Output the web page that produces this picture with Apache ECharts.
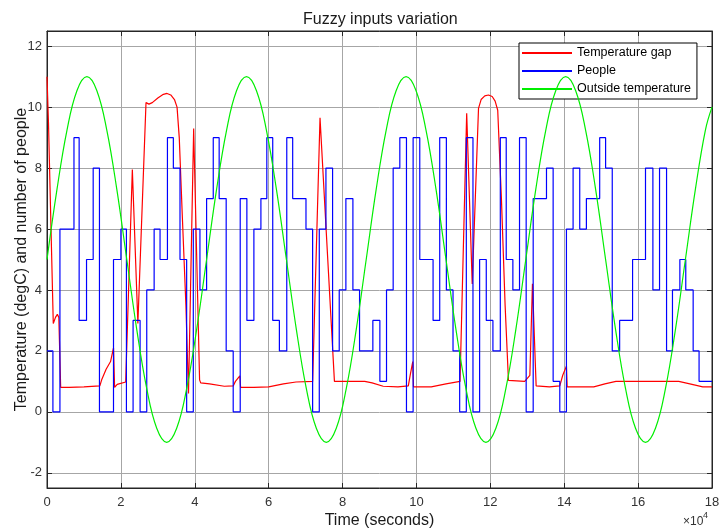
<!DOCTYPE html>
<html>
<head>
<meta charset="utf-8">
<script src="https://cdn.jsdelivr.net/npm/echarts@6/dist/echarts.min.js"></script>
<style>
html,body{margin:0;padding:0;background:#fff;}
#chart{width:719px;height:531px;}
</style>
</head>
<body>
<div id="chart"></div>
<script>
// ---- data (x in units of 10^4 s) ----
const tempGapTimes = [0, 0.04, 0.17, 0.23, 0.28, 0.32, 0.37, 0.6, 1.0, 1.43, 1.48, 1.6, 1.72, 1.80, 1.83, 1.9, 2.13,
  2.31, 2.46, 2.68, 2.76, 2.85, 3.0, 3.15, 3.25, 3.35, 3.45, 3.52, 3.58, 3.66, 3.76, 3.83, 3.97, 4.13, 4.16,
  4.4, 4.8, 5.04, 5.1, 5.22, 5.24, 5.6, 6.0, 6.4, 6.74, 7.19, 7.39, 7.78, 8.6, 8.8, 9.1, 9.5, 9.78, 9.83,
  9.9, 9.92, 10.4, 10.8, 11.18, 11.36, 11.51, 11.68, 11.75, 11.85, 11.95, 12.05, 12.13, 12.2, 12.3, 12.4,
  12.49, 12.93, 13.07, 13.14, 13.24, 13.6, 13.88, 13.96, 14.06, 14.08, 14.8, 15.1, 15.4, 17.1, 17.4, 17.75, 18];
const tempGapValues = [11.0, 9.5, 2.9, 3.1, 3.2, 3.1, 0.8, 0.8, 0.82, 0.85, 1.05, 1.4, 1.65, 2.1, 0.8, 0.9, 0.98,
  7.95, 2.9, 10.15, 10.1, 10.15, 10.3, 10.42, 10.45, 10.4, 10.25, 10.0, 9.0, 6.5, 3.5, 0.6, 9.3, 1.05, 0.95,
  0.92, 0.84, 0.85, 1.0, 1.18, 0.8, 0.8, 0.82, 0.92, 0.98, 1.0, 9.65, 1.0, 1.0, 0.95, 0.84, 0.82, 0.85, 1.2,
  1.65, 0.82, 0.82, 0.92, 1.0, 9.8, 4.2, 9.96, 10.25, 10.37, 10.4, 10.35, 10.2, 9.9, 7.0, 3.5,
  1.03, 1.0, 1.2, 4.2, 0.85, 0.82, 0.85, 1.2, 1.5, 0.82, 0.82, 0.92, 1.0, 1.0, 0.92, 0.82, 0.82];

const peopleTimes = [0, 0.16, 0.35, 0.73, 0.87, 1.07, 1.25, 1.42, 1.80, 2.00, 2.15, 2.33, 2.52, 2.70, 2.90,
  3.06, 3.26, 3.42, 3.60, 3.78, 3.96, 4.14, 4.32, 4.50, 4.66, 4.85, 5.04, 5.23, 5.41, 5.60, 5.79, 5.95,
  6.11, 6.29, 6.49, 6.65, 7.01, 7.19, 7.37, 7.55, 7.73, 7.91, 8.09, 8.28, 8.46, 8.82, 9.01, 9.19, 9.37,
  9.55, 9.73, 9.91, 10.09, 10.45, 10.63, 10.81, 10.99, 11.17, 11.35, 11.53, 11.71, 11.89, 12.07, 12.27,
  12.43, 12.61, 12.79, 12.97, 13.16, 13.52, 13.70, 13.88, 14.06, 14.24, 14.42, 14.60, 14.96, 15.12,
  15.30, 15.50, 15.85, 16.20, 16.40, 16.58, 16.77, 16.93, 17.13, 17.29, 17.49, 17.65, 18];
const peopleValues = [2, 0, 6, 9, 3, 5, 8, 0, 5, 6, 0, 3, 0, 4, 6,
  5, 9, 8, 5, 0, 6, 4, 7, 9, 7, 2, 0, 7, 3, 6, 7, 9,
  3, 2, 9, 7, 6, 0, 6, 8, 2, 4, 7, 4, 2, 3, 1, 4, 8,
  9, 0, 9, 5, 3, 9, 4, 2, 0, 9, 0, 5, 3, 2, 9,
  5, 4, 9, 0, 7, 8, 1, 0, 6, 8, 6, 7, 9, 8,
  2, 3, 5, 8, 4, 8, 2, 4, 5, 4, 2, 1, 1];

const outsideTimes = [0, 0.27, 0.54, 0.81, 1.08, 1.35, 1.62, 1.89, 2.16, 2.43, 2.70, 2.97, 3.24, 3.51, 3.78, 4.05,
  4.32, 4.59, 4.86, 5.13, 5.40, 5.67, 5.94, 6.21, 6.48, 6.75, 7.02, 7.29, 7.56, 7.83, 8.10, 8.37,
  8.64, 8.91, 9.18, 9.45, 9.72, 9.99, 10.26, 10.53, 10.80, 11.07, 11.34, 11.61, 11.88, 12.15, 12.42, 12.69,
  12.96, 13.23, 13.50, 13.77, 14.04, 14.31, 14.58, 14.85, 15.12, 15.39, 15.66, 15.93, 16.20, 16.47, 16.74, 17.01,
  17.28, 17.55, 17.82, 18];
const outsideValues = [5, 7.3, 9.24, 10.54, 11, 10.54, 9.24, 7.3, 5, 2.7, 0.76, -0.54, -1, -0.54, 0.76, 2.7,
  5, 7.3, 9.24, 10.54, 11, 10.54, 9.24, 7.3, 5, 2.7, 0.76, -0.54, -1, -0.54, 0.76, 2.7,
  5, 7.3, 9.24, 10.54, 11, 10.54, 9.24, 7.3, 5, 2.7, 0.76, -0.54, -1, -0.54, 0.76, 2.7,
  5, 7.3, 9.24, 10.54, 11, 10.54, 9.24, 7.3, 5, 2.7, 0.76, -0.54, -1, -0.54, 0.76, 2.7,
  5, 7.3, 9.24, 10.0];

const xTicks = [0, 2, 4, 6, 8, 10, 12, 14, 16, 18];
const yTicks = [-2, 0, 2, 4, 6, 8, 10, 12];
const seriesNames = ['Temperature gap', 'People', 'Outside temperature'];

// ---- chart ----
const FONT = '"Liberation Sans", Arial, Helvetica, sans-serif';
const AX = '#262626';
const GRID = '#a6a6a6';
const pairs = (ts, vs) => ts.map((t, i) => [t, vs[i]]);

const chart = echarts.init(document.getElementById('chart'), null, {renderer: 'canvas'});

const baseX = {
  type: 'value', min: 0, max: 18, interval: 2,
  axisLine: {show: true, onZero: false, lineStyle: {color: AX, width: 1}},
  axisTick: {show: true, inside: true, length: 5, customValues: xTicks, lineStyle: {color: AX}},
};
const baseY = {
  type: 'value', min: -2.5, max: 12.5, splitNumber: 7,
  axisLine: {show: true, onZero: false, lineStyle: {color: AX, width: 1}},
  axisTick: {show: true, inside: true, length: 5, customValues: yTicks, lineStyle: {color: AX}},
};

chart.setOption({
  animation: false,
  backgroundColor: '#fff',
  textStyle: {fontFamily: FONT},
  title: {
    text: 'Fuzzy inputs variation', left: 298, top: 7,
    textStyle: {fontSize: 16, fontWeight: 'normal', color: '#1a1a1a', fontFamily: FONT}
  },
  grid: {left: 47, right: 7, top: 31, bottom: 43, containLabel: false, outerBoundsMode: 'none',
    show: true, backgroundColor: '#fff', borderColor: AX, borderWidth: 1},
  legend: {
    orient: 'vertical', left: 519, top: 43,
    padding: [3, 6, 3, 3], itemGap: 4, itemWidth: 50, itemHeight: 2,
    borderColor: '#000', borderWidth: 1, backgroundColor: '#fff',
    textStyle: {fontSize: 12.5, color: '#000', lineHeight: 14, fontFamily: FONT},
    data: seriesNames.map(n => ({name: n, icon: 'rect'}))
  },
  xAxis: [
    Object.assign({}, baseX, {
      position: 'bottom',
      axisLabel: {show: true, customValues: xTicks, fontSize: 13, color: '#333', margin: 8, fontFamily: FONT},
      splitLine: {show: true, lineStyle: {color: GRID, width: 1}},
      name: 'Time (seconds)', nameLocation: 'middle', nameGap: 25, nameMoveOverlap: false,
      nameTextStyle: {fontSize: 16, color: '#1a1a1a', fontFamily: FONT}
    }),
    Object.assign({}, baseX, {
      position: 'top',
      axisLabel: {show: false}, splitLine: {show: false}
    })
  ],
  yAxis: [
    Object.assign({}, baseY, {
      position: 'left',
      axisLabel: {show: true, customValues: yTicks, fontSize: 13, color: '#333', margin: 5, fontFamily: FONT},
      splitLine: {show: true, lineStyle: {color: GRID, width: 1}},
      name: 'Temperature (degC) and number of people', nameLocation: 'middle', nameGap: 17, nameMoveOverlap: false,
      nameTextStyle: {fontSize: 16, color: '#1a1a1a', fontFamily: FONT}
    }),
    Object.assign({}, baseY, {
      position: 'right',
      axisLabel: {show: false}, splitLine: {show: false}
    })
  ],
  graphic: [
    {type: 'text', left: 683, top: 516, style: {text: '×10', fontSize: 12, fill: '#333', fontFamily: FONT}},
    {type: 'text', left: 703, top: 511, style: {text: '4', fontSize: 9, fill: '#333', fontFamily: FONT}}
  ],
  series: [
    {
      name: seriesNames[0], type: 'line', xAxisIndex: 0, yAxisIndex: 0,
      data: pairs(tempGapTimes, tempGapValues), showSymbol: false, symbol: 'none',
      itemStyle: {color: '#ff0000'}, lineStyle: {color: '#ff0000', width: 1.2}, z: 3
    },
    {
      name: seriesNames[1], type: 'line', xAxisIndex: 0, yAxisIndex: 0, step: 'end',
      data: pairs(peopleTimes, peopleValues), showSymbol: false, symbol: 'none',
      itemStyle: {color: '#0000ff'}, lineStyle: {color: '#0000ff', width: 1.2}, z: 4
    },
    {
      name: seriesNames[2], type: 'line', xAxisIndex: 0, yAxisIndex: 0, smooth: 0.4,
      data: pairs(outsideTimes, outsideValues), showSymbol: false, symbol: 'none',
      itemStyle: {color: '#00ee00'}, lineStyle: {color: '#00ee00', width: 1.2}, z: 5
    }
  ]
});
</script>
</body>
</html>
